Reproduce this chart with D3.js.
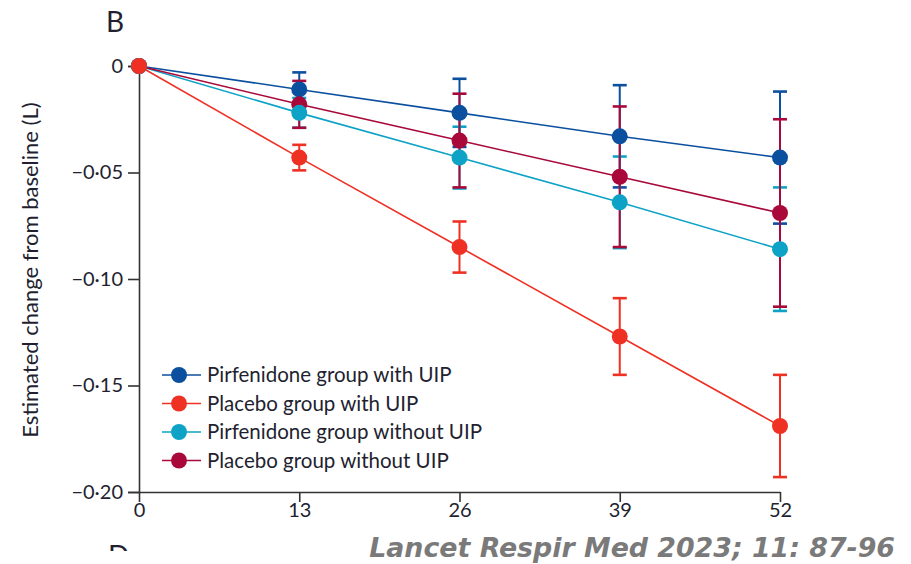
<!DOCTYPE html>
<html>
<head>
<meta charset="utf-8">
<script src="https://cdn.jsdelivr.net/npm/d3@7"></script>
<style>
  body { margin: 0; background: #fff; }
  svg text { font-family: Lato, "Open Sans", sans-serif; fill: #231f30; }
</style>
</head>
<body>
<div id="chart"></div>
<script>
// weeks on the x axis
const weeks = [0, 13, 26, 39, 52];
const yTicks = [0, -0.05, -0.10, -0.15, -0.20];

const seriesNames = [
    "Pirfenidone group with UIP",
    "Placebo group with UIP",
    "Pirfenidone group without UIP",
    "Placebo group without UIP"
];
const seriesColors = ["#0b4f9f", "#ef3124", "#0ea3c6", "#a8093a"];

// estimated change from baseline (L)
const pirfUIP = [0, -0.011, -0.022, -0.033, -0.043];
const placUIP = [0, -0.043, -0.085, -0.127, -0.169];
const pirfNoUIP = [0, -0.022, -0.043, -0.064, -0.086];
const placNoUIP = [0, -0.018, -0.035, -0.052, -0.069];

// half width of the error bars
const pirfUIPErr = [0, 0.008, 0.016, 0.024, 0.031];
const placUIPErr = [0, 0.006, 0.012, 0.018, 0.024];
const pirfNoUIPErr = [0, 0.007, 0.0145, 0.0215, 0.029];
const placNoUIPErr = [0, 0.011, 0.022, 0.033, 0.044];

const seriesValues = [pirfUIP, placUIP, pirfNoUIP, placNoUIP];
const seriesErrors = [pirfUIPErr, placUIPErr, pirfNoUIPErr, placNoUIPErr];

const width = 911, height = 564;

const svg = d3.select("#chart")
    .append("svg")
    .attr("width", width)
    .attr("height", height);

const x = d3.scaleLinear().domain([0, 52]).range([139, 780]);
const y = d3.scaleLinear().domain([-0.20, 0]).range([492, 66]);

const fmt = function (d) {
    if (d === 0) return "0";
    return d3.format(".2f")(d).replace("-", "\u2013").replace(".", "\u00b7");
};

// panel letter
svg.append("text")
    .attr("x", 106)
    .attr("y", 32)
    .attr("font-size", 28)
    .text("B");

// y axis
const yAxis = svg.append("g")
    .attr("transform", "translate(" + x(0) + ",0)")
    .call(d3.axisLeft(y).tickValues(yTicks).tickFormat(fmt).tickSize(11).tickPadding(5));
yAxis.select(".domain").attr("stroke", "#333").attr("stroke-width", 1.6);
yAxis.selectAll(".tick line").attr("stroke", "#333").attr("stroke-width", 1.6);
yAxis.selectAll(".tick text").style("font-size", "20px");

// x axis
const xAxis = svg.append("g")
    .attr("transform", "translate(0," + y(-0.20) + ")")
    .call(d3.axisBottom(x).tickValues(weeks).tickFormat(d3.format("d")).tickSize(10).tickPadding(1).tickSizeOuter(0));
xAxis.select(".domain").attr("stroke", "#333").attr("stroke-width", 1.6);
xAxis.selectAll(".tick line").attr("stroke", "#333").attr("stroke-width", 1.6);
xAxis.selectAll(".tick text").style("font-size", "20px");

// y axis title
svg.append("text")
    .attr("transform", "translate(38,270) rotate(-90)")
    .attr("text-anchor", "middle")
    .style("font-size", "22px")
    .text("Estimated change from baseline (L)");

const line = d3.line()
    .x(function (d, i) { return x(weeks[i]); })
    .y(function (d) { return y(d); });

// lines
seriesValues.forEach(function (vals, k) {
    svg.append("path")
        .datum(vals)
        .attr("fill", "none")
        .attr("stroke", seriesColors[k])
        .attr("stroke-width", 1.6)
        .attr("d", line);
});

// error bars
const capW = 7;
seriesValues.forEach(function (vals, k) {
    const g = svg.append("g").attr("stroke", seriesColors[k]).attr("stroke-width", 2);
    vals.forEach(function (v, i) {
        const e = seriesErrors[k][i];
        if (e === 0) return;
        const cx = x(weeks[i]);
        g.append("line").attr("x1", cx).attr("x2", cx).attr("y1", y(v + e)).attr("y2", y(v - e));
        g.append("line").attr("x1", cx - capW).attr("x2", cx + capW).attr("y1", y(v + e)).attr("y2", y(v + e)).attr("stroke-width", 2.6);
        g.append("line").attr("x1", cx - capW).attr("x2", cx + capW).attr("y1", y(v - e)).attr("y2", y(v - e)).attr("stroke-width", 2.6);
    });
});

// points (red drawn last so its dot sits on top at 0)
[0, 3, 2, 1].forEach(function (k) {
    svg.append("g")
        .selectAll("circle")
        .data(seriesValues[k])
        .enter().append("circle")
        .attr("cx", function (d, i) { return x(weeks[i]); })
        .attr("cy", function (d) { return y(d); })
        .attr("r", 8)
        .attr("fill", seriesColors[k]);
});

// legend
const legend = svg.append("g").attr("transform", "translate(162,375)");
seriesNames.forEach(function (name, k) {
    const row = legend.append("g").attr("transform", "translate(0," + (k * 28.5) + ")");
    row.append("line").attr("x1", 0).attr("x2", 39).attr("y1", 0).attr("y2", 0)
        .attr("stroke", seriesColors[k]).attr("stroke-width", 1.6);
    row.append("circle").attr("cx", 17).attr("cy", 0).attr("r", 8).attr("fill", seriesColors[k]);
    row.append("text").attr("x", 45).attr("y", 7).style("font-size", "20.5px").text(name);
});

// top of next panel letter, cut off by the crop
svg.append("clipPath").attr("id", "cutD")
    .append("rect").attr("x", 100).attr("y", 542).attr("width", 40).attr("height", 9);
svg.append("text")
    .attr("x", 108)
    .attr("y", 566)
    .style("font-size", "28px")
    .attr("clip-path", "url(#cutD)")
    .text("D");

// citation
svg.append("text")
    .attr("x", 895)
    .attr("y", 557)
    .attr("text-anchor", "end")
    .style("font-size", "26.8px")
    .style("font-style", "oblique")
    .style("font-weight", "700")
    .style("font-family", "\"DejaVu Sans\", sans-serif")
    .style("fill", "#7a7a7a")
    .text("Lancet Respir Med 2023; 11: 87-96");
</script>
</body>
</html>
